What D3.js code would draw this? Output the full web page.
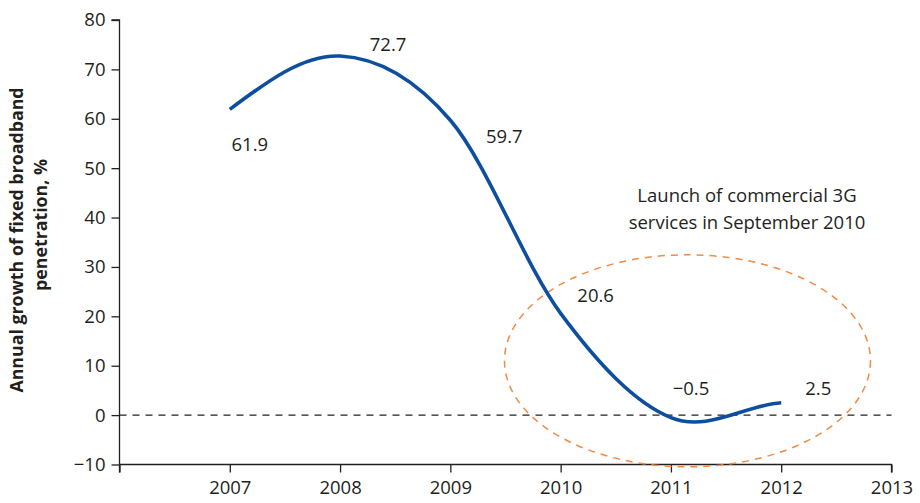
<!DOCTYPE html>
<html><head><meta charset="utf-8">
<script src="https://cdn.jsdelivr.net/npm/d3@7"></script>
<style>
body{margin:0;background:#fff;}
text{font-family:"Open Sans",sans-serif;fill:#231f20;}
</style></head>
<body><svg id="c" width="920" height="503"></svg>
<script>
const years = [2007, 2008, 2009, 2010, 2011, 2012];
const growth = [61.9, 72.7, 59.7, 20.6, -0.5, 2.5];
const valueLabels = ["61.9", "72.7", "59.7", "20.6", "\u22120.5", "2.5"];
const yTicks = [-10, 0, 10, 20, 30, 40, 50, 60, 70, 80];
const xTicks = [2006, 2007, 2008, 2009, 2010, 2011, 2012, 2013];
const xTickLabels = ["", "2007", "2008", "2009", "2010", "2011", "2012", "2013"];
const yTitle = ["Annual growth of fixed broadband", "penetration, %"];
const note = ["Launch of commercial 3G", "services in September 2010"];

// layout (label offsets in px)
const labelOffsets = [[20, 42], [48, -5], [54, 23], [35, -11], [20, -23], [37, -8]];

// Smooth curve: Catmull-Rom tangents inside, natural start, eased end
function SmoothCurve(context) { this._context = context; }
SmoothCurve.prototype = {
  areaStart() { this._line = 0; },
  areaEnd() { this._line = NaN; },
  lineStart() { this._x = []; this._y = []; },
  point(x, y) { this._x.push(+x); this._y.push(+y); },
  lineEnd() {
    const X = this._x, Y = this._y, n = X.length, c = this._context;
    if (!n) return;
    if (this._line || (this._line !== 0 && n === 1)) c.lineTo(X[0], Y[0]); else c.moveTo(X[0], Y[0]);
    if (n === 2) c.lineTo(X[1], Y[1]);
    else if (n > 2) {
      const m = new Array(n);
      for (let i = 1; i < n - 1; i++) m[i] = (Y[i + 1] - Y[i - 1]) / (X[i + 1] - X[i - 1]);
      m[0] = (3 * (Y[1] - Y[0]) / (X[1] - X[0]) - m[1]) / 2;
      m[n - 1] = (Y[n - 1] - Y[n - 2]) / (X[n - 1] - X[n - 2]) / 2;
      for (let i = 0; i < n - 1; i++) {
        const dx = (X[i + 1] - X[i]) / 3;
        c.bezierCurveTo(X[i] + dx, Y[i] + m[i] * dx, X[i + 1] - dx, Y[i + 1] - m[i + 1] * dx, X[i + 1], Y[i + 1]);
      }
    }
    if (this._line || (this._line !== 0 && n === 1)) c.closePath();
    this._line = 1 - this._line;
  }
};
const curveSmooth = ctx => new SmoothCurve(ctx);

const svg = d3.select("#c");
const x = d3.scaleLinear().domain([2006, 2013]).range([119.5, 891.5]);
const y = d3.scaleLinear().domain([-10, 80]).range([464.5, 20]);

// y axis
const yAxis = svg.append("g").attr("transform", "translate(119.5,0)")
  .call(d3.axisLeft(y).tickValues(yTicks).tickSize(8).tickPadding(6)
    .tickFormat(d => d < 0 ? "\u2212" + Math.abs(d) : d));
yAxis.select(".domain").attr("d", `M0,${y(80)}H-8H0V${y(-10) + 8}`);
yAxis.selectAll("line, path").attr("stroke", "#231f20").attr("stroke-width", 1.3);
yAxis.selectAll("text").style("font-size", "18.5px").attr("fill", "#231f20").style("font-family", "'Open Sans',sans-serif");

// x axis
const xAxis = svg.append("g").attr("transform", `translate(0,${y(-10)})`)
  .call(d3.axisBottom(x).tickValues(xTicks).tickSize(8).tickPadding(8)
    .tickFormat((d, i) => xTickLabels[i]));
xAxis.select(".domain").attr("d", `M${x(2006)},0H${x(2013)}V8`);
xAxis.selectAll("line, path").attr("stroke", "#231f20").attr("stroke-width", 1.3);
xAxis.selectAll("text").style("font-size", "18.5px").attr("fill", "#231f20").style("font-family", "'Open Sans',sans-serif");

// zero dashed line
svg.append("line").attr("x1", x(2006)).attr("x2", x(2013)).attr("y1", y(0)).attr("y2", y(0))
  .attr("stroke", "#231f20").attr("stroke-width", 1.2).attr("stroke-dasharray", "7,6");

// ellipse
svg.append("ellipse").attr("cx", x(2011.15)).attr("cy", y(11)).attr("rx", 183).attr("ry", 106)
  .attr("fill", "none").attr("stroke", "#f28a45").attr("stroke-width", 1.5).attr("stroke-dasharray", "7,6");

// line
const pts = years.map((yr, i) => [yr, growth[i]]);
svg.append("path").datum(pts)
  .attr("d", d3.line().x(d => x(d[0])).y(d => y(d[1])).curve(curveSmooth))
  .attr("fill", "none").attr("stroke", "#0d4f9e").attr("stroke-width", 3.6);

// value labels
svg.append("g").selectAll("text").data(pts).join("text")
  .attr("x", (d, i) => x(d[0]) + labelOffsets[i][0])
  .attr("y", (d, i) => y(d[1]) + labelOffsets[i][1])
  .attr("text-anchor", "middle").style("font-size", "18.5px")
  .text((d, i) => valueLabels[i]);

// annotation
svg.append("text").attr("text-anchor", "middle").style("font-size", "18.5px")
  .selectAll("tspan").data(note).join("tspan")
  .attr("x", 747).attr("y", (d, i) => 202 + i * 27).text(d => d);

// y title
svg.append("g").selectAll("text").data(yTitle).join("text")
  .attr("transform", (d, i) => `translate(${i === 0 ? 23 : 47},${i === 0 ? 240 : 225}) rotate(-90)`)
  .attr("text-anchor", "middle").style("font-size", "17.8px").style("font-weight", "bold")
  .text(d => d);
</script></body></html>
